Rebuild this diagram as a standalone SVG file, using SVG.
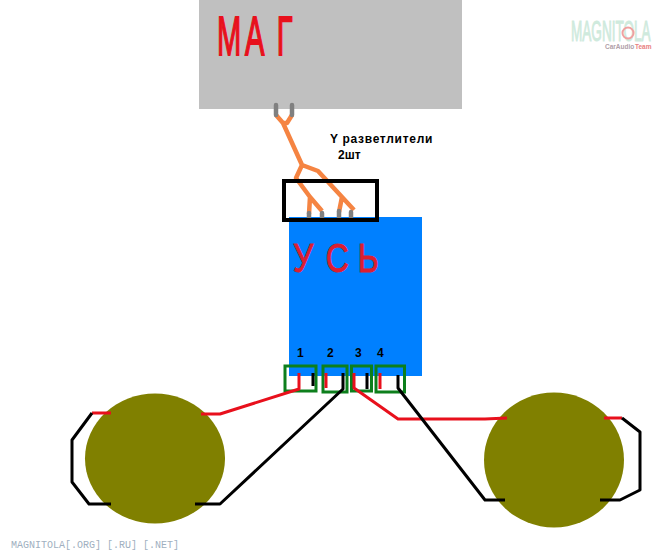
<svg xmlns="http://www.w3.org/2000/svg" width="671" height="553" viewBox="0 0 671 553">
<style>
text{font-family:"Liberation Sans",Arial,sans-serif}
.w{fill:none;stroke-linejoin:round;stroke-linecap:butt}
.o{stroke:#f58442;stroke-width:4.500}
.g{stroke:#808080;stroke-width:4.500;stroke-linecap:round}
.r{stroke:#e8101c;stroke-width:3}
.k{stroke:#000;stroke-width:3}
.t{fill:none;stroke:#0d7f1c;stroke-width:3}
.sp{fill:#808000}
.n{font-size:12px;font-weight:bold;fill:#000}
.l{font-size:12px;font-weight:bold;fill:#000}
</style>
<rect width="671" height="553" fill="#fff"/>
<g id="mag">
<rect x="199" y="0" width="263" height="109" fill="#c0c0c0"/>
<text transform="translate(217 55) scale(.52 1)" x="0 54 115" y="0" font-size="56" fill="#e8101c" stroke="#e8101c" stroke-width="1.800">МАГ</text>
</g>
<g id="amp">
<rect x="289" y="217" width="133" height="159" fill="#0080ff"/>
<text transform="translate(293 272) scale(.8 1)" x="0 41 81" y="0" font-size="40" fill="#dc1e30" stroke="#dc1e30" stroke-width="1">УСЬ</text>
</g>
<g id="speaker-left"><ellipse class="sp" cx="155" cy="458.500" rx="70" ry="65"/></g>
<g id="speaker-right"><ellipse class="sp" cx="554" cy="460" rx="70" ry="67.500"/></g>
<g id="terminals">
<rect class="t" x="285" y="366" width="31" height="25"/>
<rect class="t" x="323" y="366" width="24" height="26"/>
<rect class="t" x="351.500" y="366" width="20" height="25"/>
<rect class="t" x="376" y="366" width="28.500" height="26"/>
<text class="n" x="297" y="357">1</text>
<text class="n" x="327" y="357">2</text>
<text class="n" x="355" y="357">3</text>
<text class="n" x="377" y="357">4</text>
</g>
<g id="connectors">
<path class="w o" d="M276 115L283 123L287 123L292 115M283 123L302 165L296 178L310 197L309 214M310 197L322 211M302 165L318 171L342 197L339 212M342 197L354 210"/>
<path class="w g" d="M276 105V115M292 105V115M309 213V217M322 213V217M339 211V217M351 212V217"/>
<path class="w r" d="M299 373V389L220 414H201M326 373V388M354 373V388L398 419H485L507 418M380 373V389M604 418H622M111 413H92"/>
<path class="w k" d="M313 373V386M343 373V389L220 504H195M367 373V389M398 375V388L485 500H505M622 418L640 432V490L620 500H600M92 413L72 440V482L89 504H111"/>
</g>
<g id="splitter">
<rect x="284" y="181" width="93" height="39" fill="none" stroke="#000" stroke-width="4"/>
</g>
<g id="label">
<text class="l" x="330" y="143" letter-spacing=".7">Y разветлители</text>
<text class="l" x="338" y="159">2шт</text>
</g>
<g id="watermark">
<text transform="translate(571 41) scale(.468 1)" font-size="29" fill="#cfeadd" stroke="#cfeadd" stroke-width="1">MAGNITOLA</text>
<circle cx="628" cy="33" r="5.500" fill="none" stroke="#f0a0a0" stroke-width="2"/>
<text x="605" y="49" font-size="6.500" font-weight="bold" fill="#b0a0a8">CarAudio</text>
<text x="635" y="49" font-size="6.500" font-weight="bold" fill="#e88080">Team</text>
</g>
<text x="11" y="548" font-size="10" fill="#a0b0c0" style="font-family:'Liberation Mono',monospace">MAGNITOLA[.ORG] [.RU] [.NET]</text>
</svg>
